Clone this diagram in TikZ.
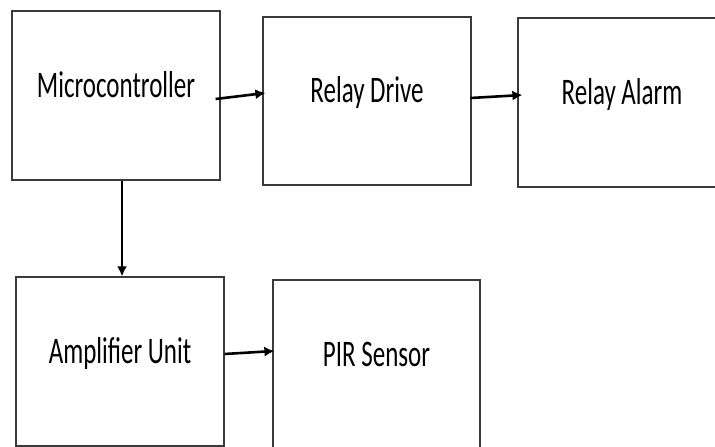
\documentclass[tikz,border=0pt]{standalone}
\usepackage{fontspec}
\setmainfont{Carlito}
\usetikzlibrary{arrows.meta,calc}
\definecolor{boxline}{HTML}{3A3A3A}
\tikzset{
  blk/.style={draw=boxline, line width=1.2pt, minimum width=208pt, minimum height=169pt, inner sep=0pt},
  txt/.style={yshift=-1.5pt, inner sep=0pt, font=\fontsize{25}{30}\selectfont},
  conn/.style={draw=black, line width=2.6pt, -{Latex[length=10pt,width=10pt]}},
}
\newcommand{\stretchtxt}[1]{\smash{\scalebox{1}[1.5]{#1}}}
\begin{document}
\begin{tikzpicture}[x=1pt,y=-1pt]
\useasboundingbox (0,0) rectangle (715,447);
\clip (0,0) rectangle (715,447);
\fill[white] (0,0) rectangle (715,447);
\node[blk, label={[txt]center:\stretchtxt{Microcontroller}}] (micro) at (116,95.5) {};
\node[blk, minimum height=168pt, label={[txt]center:\stretchtxt{Relay Drive}}] (rd) at (367,101) {};
\node[blk, label={[txt]center:\stretchtxt{Relay Alarm}}] (ra) at (622,102.5) {};
\node[blk, label={[txt]center:\stretchtxt{Amplifier Unit}}] (amp) at (120,361.5) {};
\node[blk, minimum width=207pt, minimum height=170pt, label={[txt]center:\stretchtxt{PIR Sensor}}] (pir) at (376.5,365) {};
\draw[conn] ([shift={(-5,3.5)}]micro.east) -- ([shift={(3,-8)}]rd.west);
\draw[conn] ([shift={(-1,-3)}]rd.east) -- ([shift={(5,-7.5)}]ra.west);
\draw[conn, line width=2pt] (micro.south -| 122,0) -- (amp.north -| 122,0);
\draw[conn] ([shift={(0,-7.5)}]amp.east) -- ([shift={(2,-14)}]pir.west);
\end{tikzpicture}
\end{document}
